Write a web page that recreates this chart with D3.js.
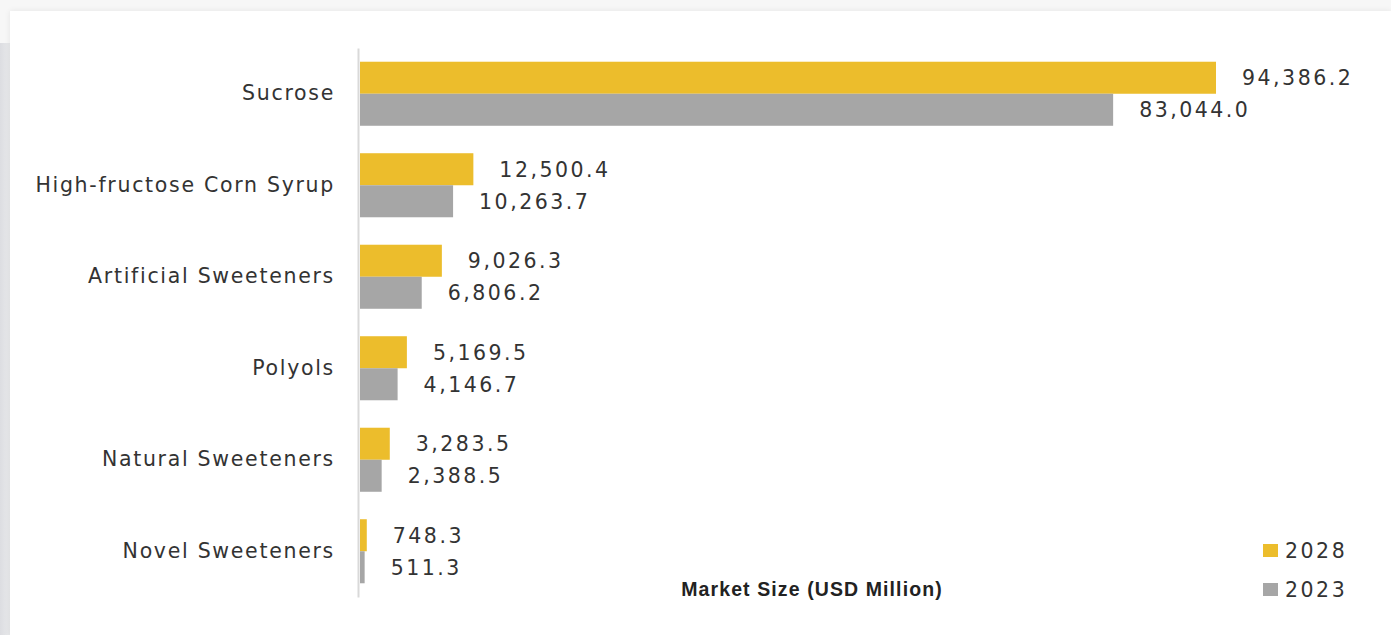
<!DOCTYPE html>
<html>
<head>
<meta charset="utf-8">
<script src="https://cdn.jsdelivr.net/npm/d3@7"></script>
<style>
    body { margin: 0; background: #f7f7f7; overflow: hidden; }
    #strip { position: absolute; left: 0; top: 43px; width: 10px; height: 600px; background: linear-gradient(to right, #dcdde1, #e9eaec); }
    #card { position: absolute; left: 10px; top: 11px; width: 1381px; height: 624px; background: #fff; box-shadow: 0 0 6px rgba(0,0,0,0.08); }
    svg { position: absolute; left: 0; top: 0; }
</style>
</head>
<body>
<div id="strip"></div>
<div id="card"></div>
<div id="chart"></div>
<script>
    const categories = ["Sucrose", "High-fructose Corn Syrup", "Artificial Sweeteners", "Polyols", "Natural Sweeteners", "Novel Sweeteners"];
    const series = ["2028", "2023"];
    const values2028 = [94386.2, 12500.4, 9026.3, 5169.5, 3283.5, 748.3];
    const values2023 = [83044.0, 10263.7, 6806.2, 4146.7, 2388.5, 511.3];
    const colors = ["#ecbd2c", "#a6a6a6"];
    const axisTitle = "Market Size (USD Million)";

    const width = 1391, height = 635;
    const font = "DejaVu Sans";

    let svg = d3.select("#chart").append("svg")
        .attr("width", width)
        .attr("height", height);

    const x = d3.scaleLinear().domain([0, 94386.2]).range([360, 1216]);
    const y = d3.scaleBand().domain(categories).range([48, 597]).paddingInner(0.3).paddingOuter(0.15);
    const ySub = d3.scaleBand().domain(series).range([0, y.bandwidth()]);

    const rows = categories.map((c, i) => ({cat: c, vals: [values2028[i], values2023[i]]}));

    let groups = svg.selectAll(".cat")
        .data(rows).enter()
        .append("g")
        .attr("transform", d => "translate(0," + y(d.cat) + ")");

    groups.selectAll("rect")
        .data(d => d.vals.map((v, j) => ({s: series[j], v: v, j: j}))).enter()
        .append("rect")
        .attr("x", x(0))
        .attr("y", d => ySub(d.s))
        .attr("width", d => x(d.v) - x(0))
        .attr("height", ySub.bandwidth())
        .style("fill", d => colors[d.j]);

    groups.selectAll(".val")
        .data(d => d.vals.map((v, j) => ({s: series[j], v: v}))).enter()
        .append("text")
        .attr("x", d => x(d.v) + 26)
        .attr("y", d => ySub(d.s) + ySub.bandwidth() / 2)
        .attr("dy", "0.36em")
        .style("font-family", font)
        .style("font-size", "20.5px")
        .style("letter-spacing", "2.5px")
        .style("fill", "#333")
        .text(d => d3.format(",.1f")(d.v));

    // category axis
    const yAxis = svg.append("g")
        .attr("transform", "translate(358,0)")
        .call(d3.axisLeft(y).tickSize(0).tickPadding(23));
    yAxis.select(".domain").attr("stroke", "#d9d9d9").attr("stroke-width", 2);
    yAxis.selectAll("text")
        .style("font-family", font)
        .style("font-size", "20.5px")
        .style("letter-spacing", "1.7px")
        .style("fill", "#333");

    svg.append("text")
        .attr("x", 812)
        .attr("y", 596)
        .attr("text-anchor", "middle")
        .style("font-family", "Liberation Sans")
        .style("font-weight", "bold")
        .style("font-size", "19.5px")
        .style("letter-spacing", "1.1px")
        .style("fill", "#222")
        .text(axisTitle);

    let legend = svg.selectAll(".legend")
        .data(series).enter()
        .append("g")
        .attr("transform", (d, i) => "translate(1263," + (551 + i * 39) + ")");
    legend.append("rect")
        .attr("x", 0).attr("y", -7)
        .attr("width", 15).attr("height", 13)
        .style("fill", (d, i) => colors[i]);
    legend.append("text")
        .attr("x", 22)
        .attr("dy", "0.36em")
        .style("font-family", font)
        .style("font-size", "20.5px")
        .style("letter-spacing", "2.5px")
        .style("fill", "#333")
        .text(d => d);
</script>
</body>
</html>
